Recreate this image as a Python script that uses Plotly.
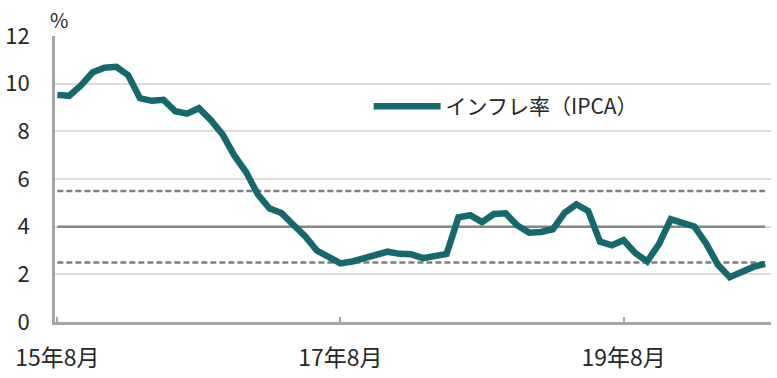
import plotly.graph_objects as go

months = list(range(61))  # Aug 2015 .. Aug 2020, monthly index
ipca = [9.53, 9.49, 9.93, 10.48, 10.67, 10.71, 10.36, 9.39, 9.28, 9.32, 8.84, 8.74,
        8.97, 8.48, 7.87, 6.99, 6.29, 5.35, 4.76, 4.57, 4.08, 3.60, 3.00, 2.71,
        2.46, 2.54, 2.70, 2.80, 2.95, 2.86, 2.84, 2.68, 2.76, 2.86, 4.39, 4.48,
        4.19, 4.53, 4.56, 4.05, 3.75, 3.78, 3.89, 4.58, 4.94, 4.66, 3.37, 3.22,
        3.43, 2.89, 2.54, 3.27, 4.31, 4.19, 4.01, 3.30, 2.40, 1.88, 2.13, 2.31, 2.44]
target_mid = 4.0
target_upper = 5.5
target_lower = 2.5
tick_vals = [0, 24, 48]
tick_text = ["15年8月", "17年8月", "19年8月"]
y_ticks = [0, 2, 4, 6, 8, 10, 12]

FONT = "Noto Sans CJK JP"
TEAL = "#17686c"

fig = go.Figure()
fig.add_trace(go.Scatter(x=months, y=[target_upper] * len(months), mode="lines",
                         line=dict(color="#7f7f7f", width=2.5, dash="6px,3px"),
                         showlegend=False, hoverinfo="skip"))
fig.add_trace(go.Scatter(x=months, y=[target_lower] * len(months), mode="lines",
                         line=dict(color="#7f7f7f", width=2.5, dash="6px,3px"),
                         showlegend=False, hoverinfo="skip"))
fig.add_trace(go.Scatter(x=months, y=[target_mid] * len(months), mode="lines",
                         line=dict(color="#858585", width=2.5),
                         showlegend=False, hoverinfo="skip"))
fig.add_trace(go.Scatter(x=months, y=ipca, mode="lines", name="インフレ率（IPCA）",
                         line=dict(color=TEAL, width=6.5, shape="linear")))

fig.update_layout(
    width=777, height=378,
    margin=dict(l=55, r=6, t=36, b=56),
    paper_bgcolor="white", plot_bgcolor="white",
    font=dict(family=FONT, color="#262626", size=21),
    showlegend=True,
    legend=dict(x=0.438, y=0.753, xanchor="left", yanchor="middle",
                bgcolor="rgba(0,0,0,0)", itemwidth=67,
                font=dict(family=FONT, size=21, color="#262626")),
    xaxis=dict(range=[-0.2, 60.5], tickmode="array", tickvals=tick_vals,
               ticktext=tick_text, ticks="inside", ticklen=5, tickwidth=2,
               tickcolor="#a6a6a6", showline=True, linecolor="#a6a6a6",
               linewidth=3, showgrid=False, zeroline=False,
               ticklabelstandoff=13, tickfont=dict(size=23)),
    yaxis=dict(range=[0, 12], tickmode="array", tickvals=y_ticks,
               showline=True, linecolor="#a6a6a6", linewidth=3,
               showgrid=True, gridcolor="#dcdcdc", gridwidth=2,
               zeroline=False, ticks="", ticklabelstandoff=18,
               tickfont=dict(size=22)),
    annotations=[dict(text="%", xref="paper", yref="paper", x=0.0, y=1.0,
                      xanchor="left", yanchor="bottom", showarrow=False,
                      font=dict(size=20, color="#262626"), xshift=-7, yshift=0)],
)

fig.write_html("out.html")
